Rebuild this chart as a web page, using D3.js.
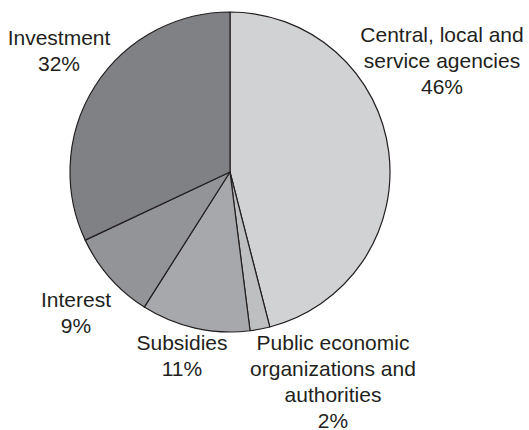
<!DOCTYPE html>
<html>
<head>
<meta charset="utf-8">
<script src="https://cdn.jsdelivr.net/npm/d3@7"></script>
<style>
  html, body { margin: 0; padding: 0; background: #fff; }
  svg { display: block; }
  text { font-family: "Liberation Sans", Arial, Helvetica, sans-serif; fill: #231f20; }
</style>
</head>
<body>
<svg id="chart" width="529" height="430"></svg>
<script>
// Budget shares, clockwise from 12 o'clock
const categories = [
  "Central, local and service agencies",
  "Public economic organizations and authorities",
  "Subsidies",
  "Interest",
  "Investment"
];
const shares = [46, 2, 11, 9, 32];
const sliceColors = ["#d1d2d4", "#bebfc1", "#a7a8ab", "#939497", "#808184"];
// Label text broken into lines
const labelLines = [
  ["Central, local and", "service agencies", "46%"],
  ["Public economic", "organizations and", "authorities", "2%"],
  ["Subsidies", "11%"],
  ["Interest", "9%"],
  ["Investment", "32%"]
];
// Label anchor points (centre x, first baseline y)
const labelAnchors = [
  [442, 42],
  [333, 350],
  [182, 350],
  [76, 307],
  [59, 45]
];

const svg = d3.select("#chart");
const cx = 230, cy = 172, radius = 160;

const pie = d3.pie().sort(null).value(d => d);
const arc = d3.arc().innerRadius(0).outerRadius(radius);

const g = svg.append("g").attr("transform", `translate(${cx},${cy})`);
g.selectAll("path")
  .data(pie(shares))
  .join("path")
  .attr("d", arc)
  .attr("fill", (d, i) => sliceColors[i])
  .attr("stroke", "#231f20")
  .attr("stroke-width", 1.2)
  .attr("stroke-linejoin", "round");

const lineHeight = 26;
const labels = svg.append("g");
categories.forEach((c, i) => {
  const [x, y] = labelAnchors[i];
  const t = labels.append("text")
    .attr("x", x).attr("y", y)
    .attr("text-anchor", "middle")
    .attr("font-size", 21);
  labelLines[i].forEach((ln, j) => {
    t.append("tspan").attr("x", x).attr("y", y + j * lineHeight).text(ln);
  });
});
</script>
</body>
</html>
